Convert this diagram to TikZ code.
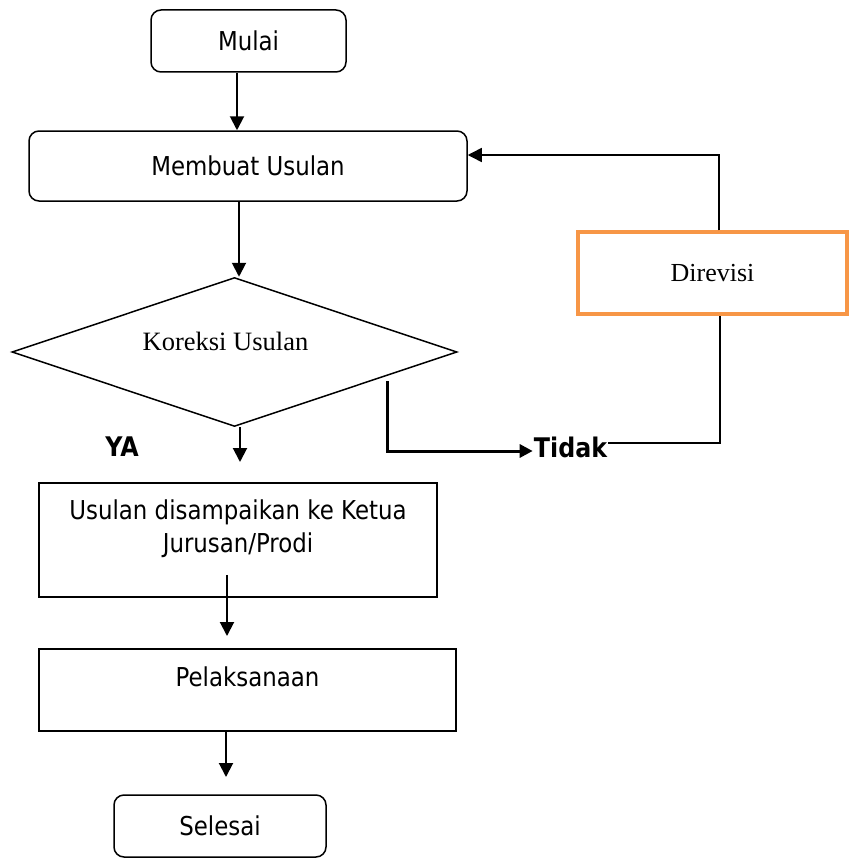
\documentclass[tikz,border=0pt]{standalone}
\usepackage{fontspec}
\setmainfont{DejaVu Sans}[FakeStretch=0.88]
\newfontfamily\serifrm{Liberation Serif}
\usetikzlibrary{shapes.geometric,arrows.meta}
\definecolor{revorange}{RGB}{247,150,70}
\tikzset{
  boxfont/.style={font=\fontsize{26}{33}\selectfont},
  terminal/.style={draw,line width=1.5pt,rounded corners=10pt,boxfont},
  process/.style={draw,line width=1.5pt,boxfont},
  decision/.style={draw,diamond,line width=1.5pt,inner sep=0pt},
  revbox/.style={draw=revorange,line width=3.5pt,font=\serifrm\fontsize{26}{30}\selectfont},
  branchlabel/.style={inner sep=1pt,font=\bfseries\fontsize{27}{30}\selectfont},
  every label/.style={inner sep=0pt,boxfont},
  flow/.style={line width=2pt,-{Triangle[length=14pt,width=14pt]}},
  flowthick/.style={line width=3pt,-{Triangle[length=13pt,width=13pt]}},
  thinline/.style={line width=1.5pt},
}
\begin{document}
\begin{tikzpicture}[x=1pt,y=-1pt]
  \useasboundingbox (0,0) rectangle (850,859);
  % boxes
  \node[terminal,minimum width=195pt,minimum height=62pt] (mulai) at (248.5,41) {Mulai};
  \node[terminal,minimum width=438pt,minimum height=70pt] (membuat) at (248,166) {Membuat Usulan};
  \node[decision,minimum width=445pt,minimum height=149pt,
    label={[xshift=-9pt,yshift=11pt,font=\serifrm\fontsize{26.5}{30}\selectfont]center:Koreksi Usulan}]
    (koreksi) at (234.5,352) {};
  \node[revbox,minimum width=269pt,minimum height=82pt] (direvisi) at (712.5,273) {Direvisi};
  \node[process,minimum width=398pt,minimum height=114pt,
    label={[anchor=north,yshift=-17pt,align=center]north:Usulan disampaikan ke Ketua\\Jurusan/Prodi}]
    (sampaikan) at (238,540) {};
  \node[process,minimum width=417pt,minimum height=82pt,
    label={[anchor=north,yshift=-18pt]north:Pelaksanaan}]
    (pelaksanaan) at (247.5,690) {};
  \node[terminal,minimum width=212pt,minimum height=62pt] (selesai) at (220,826) {Selesai};
  \node[branchlabel] (ya) at (122,447) {YA};
  \node[branchlabel] (tidak) at (570.5,447) {Tidak};
  % free ends
  \coordinate (yaEnd) at (240,462);
  \coordinate (tidakStart) at (387,381);
  \coordinate (pelaksanaanIn) at (227,636);
  \coordinate (selesaiIn) at (226,777);
  % connectors
  \draw[flow] ([xshift=-11.5pt]mulai.south) -- ([xshift=-11.5pt]mulai.south |- membuat.north);
  \draw[flow] ([xshift=-9pt]membuat.south) -- ([xshift=-9pt]membuat.south |- koreksi.north);
  \draw[flow] (koreksi.south -| yaEnd) -- (yaEnd);
  \draw[flowthick] (tidakStart) |- ([yshift=-4pt]tidak.west);
  \draw[thinline] ([yshift=4pt]tidak.east) -| ([xshift=7.5pt]direvisi.south);
  \draw[flow,line width=1.5pt] ([xshift=6.5pt]direvisi.north) |- ([yshift=11pt]membuat.east);
  \draw[flow] ([xshift=-11pt,yshift=23pt]sampaikan.south) -- (pelaksanaanIn);
  \draw[flow] ([xshift=-21.5pt]pelaksanaan.south) -- (selesaiIn);
\end{tikzpicture}
\end{document}
